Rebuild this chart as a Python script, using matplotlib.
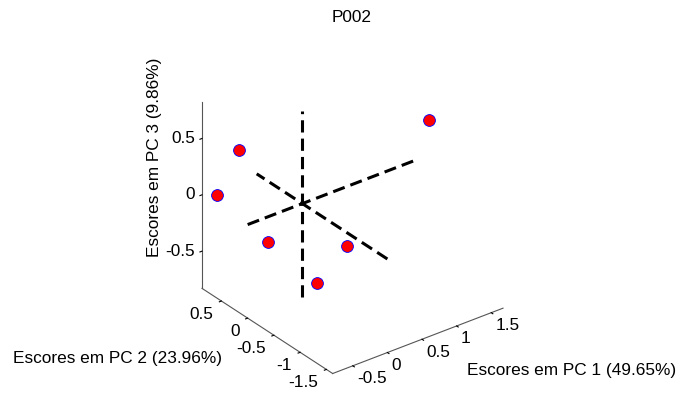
import numpy as np
import matplotlib
matplotlib.use("Agg")
import matplotlib.pyplot as plt
from mpl_toolkits.mplot3d import proj3d

plt.rcParams['font.family'] = ['Liberation Sans', 'DejaVu Sans']
plt.rcParams['axes.unicode_minus'] = False

# scores of the six samples on the first three PCs
pc1 = [1.53, -0.53, -0.70, -0.27, 0.26, -0.25]
pc2 = [-0.40, 0.50, 0.70, 0.30, -0.50, -0.60]
pc3 = [0.50, 0.445, 0.03, -0.37, -0.29, -0.46]

xlims = (-0.79, 1.67)
ylims = (-1.62, 0.87)
zlims = (-0.83, 0.82)

xticks = [-0.5, 0, 0.5, 1, 1.5]
yticks = [-1.5, -1, -0.5, 0, 0.5]
zticks = [-0.5, 0, 0.5]

title = "P002"
xlabel = "Escores em PC 1 (49.65%)"
ylabel = "Escores em PC 2 (23.96%)"
zlabel = "Escores em PC 3 (9.86%)"

W, H = 681, 393
fs = 12.4


def fmt(v):
    return "%g" % v


fig = plt.figure(figsize=(W / 100, H / 100), dpi=100)
S = 361
cx, cy = 352.5, 393 - 205.3
ax = fig.add_axes([(cx - 0.5135 * S) / W, (cy - 0.5135 * S) / H, S / W, S / H],
                  projection='3d', proj_type='ortho')
ax.set_box_aspect((1, 1, 1))
ax.view_init(elev=30, azim=-127.5)

# origin axes (dashed)
ax.plot(xlims, [0, 0], [0, 0], color='black', lw=2.2, ls=(0, (4, 2)))
ax.plot([0, 0], ylims, [0, 0], color='black', lw=2.2, ls=(0, (4, 2)))
ax.plot([0, 0], [0, 0], zlims, color='black', lw=2.2, ls=(0, (4, 2)))

ax.plot(pc1, pc2, pc3, ls='none', marker='o', ms=8.5, mfc='red', mec='blue',
        mew=0.6)

ax.set_xlim(xlims)
ax.set_ylim(ylims)
ax.set_zlim(zlims)
ax.set_xticks(xticks)
ax.set_yticks(yticks)
ax.set_zticks(zticks)
ax.set_xticklabels([])
ax.set_yticklabels([])
ax.set_zticklabels([])

ax.grid(False)
for a in (ax.xaxis, ax.yaxis, ax.zaxis):
    a.set_pane_color((1, 1, 1, 0))
    a.pane.set_edgecolor((1, 1, 1, 0))
    a.line.set_color('#555555')
    a.line.set_linewidth(0.8)
    a._axinfo['tick']['inward_factor'] = 0.15
    a._axinfo['tick']['outward_factor'] = 0.0
    a._axinfo['tick']['color'] = '#555555'

# tick labels placed next to the projected tick positions, MATLAB style
M = ax.get_proj()


def tick_label(x, y, z, s, dx, dy, ha):
    px, py, _ = proj3d.proj_transform(x, y, z, M)
    ax.annotate(s, (px, py), xytext=(dx, dy), textcoords='offset pixels',
                ha=ha, va='center', fontsize=fs, annotation_clip=False)


for v in xticks:
    tick_label(v, ylims[0], zlims[0], fmt(v), 4, -13, 'left')
for v in yticks:
    tick_label(xlims[0], v, zlims[0], fmt(v), -8, -13, 'right')
for v in zticks:
    tick_label(xlims[0], ylims[1], v, fmt(v), -7, 0, 'right')

fig.text(352 / W, 1 - 18 / H, title, ha='center', va='center', fontsize=fs)
fig.text(467 / W, 1 - 370 / H, xlabel, ha='left', va='center', fontsize=fs)
fig.text(12.7 / W, 1 - 359 / H, ylabel, ha='left', va='center', fontsize=fs)
fig.text(155 / W, 1 - 157 / H, zlabel, ha='center', va='center', fontsize=fs,
         rotation=90)

fig.savefig("out.png", dpi=100)
